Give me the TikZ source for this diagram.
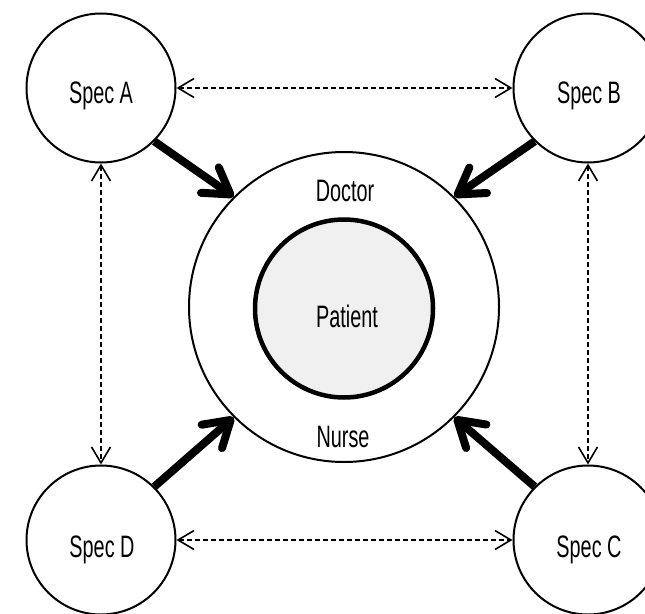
\documentclass[tikz,border=0pt]{standalone}
\usepackage{fontspec}
\setmainfont{Liberation Sans}[FakeStretch=0.64]
\usetikzlibrary{arrows.meta}

\begin{document}
\begin{tikzpicture}[x=1pt,y=-1pt,
  spec/.style={circle,draw,line width=2pt,minimum size=149pt,inner sep=0pt},
  ring/.style={circle,draw,line width=2pt,minimum size=310pt,inner sep=0pt},
  core/.style={circle,draw,line width=4.5pt,fill=black!6,minimum size=178pt,inner sep=0pt},
  lbl/.style={anchor=base,inner sep=0pt,font=\fontsize{31}{34}\selectfont},
  flow/.style={line width=8pt,line cap=butt,-{Straight Barb[length=25pt,width=31pt,round]}},
  link/.style={line width=1.6pt,dash pattern=on 5pt off 3pt,
    {Straight Barb[length=16pt,width=19pt]}-{Straight Barb[length=16pt,width=19pt]}}]
  \clip (0,0) rectangle (645,613);
  \fill[white] (0,0) rectangle (645,613);

  % care team around the patient
  \node[ring] (team) at (344,307) {};
  \node[core] (pt) at (344,308.5) {};

  % specialists in the corners
  \node[spec] (sa) at (101,88) {};
  \node[spec] (sb) at (588,88) {};
  \node[spec] (sd) at (101,540) {};
  \node[spec] (sc) at (588,540) {};

  % labels
  \node[lbl] (la) at (101,103) {Spec A};
  \node[lbl] (lb) at (589,103) {Spec B};
  \node[lbl] (ld) at (102,557) {Spec D};
  \node[lbl] (lc) at (589,557) {Spec C};
  \node[lbl] (ldoc) at (345,201) {Doctor};
  \node[lbl] (lpt) at (347,327) {Patient};
  \node[lbl] (lnu) at (343,447) {Nurse};

  % specialist input to the care team
  \draw[flow] (sa.-45) -- (team.135);
  \draw[flow] (sb.-135) -- (team.45);
  \draw[flow] (sd.45) -- (team.-135);
  \draw[flow] (sc.135) -- (team.-45);

  % exchange between specialists
  \draw[link] (sa.east) -- (sb.west);
  \draw[link] (sd.east) -- (sc.west);
  \draw[link] (sa.south) -- (sd.north);
  \draw[link] (sb.south) -- (sc.north);
\end{tikzpicture}
\end{document}
